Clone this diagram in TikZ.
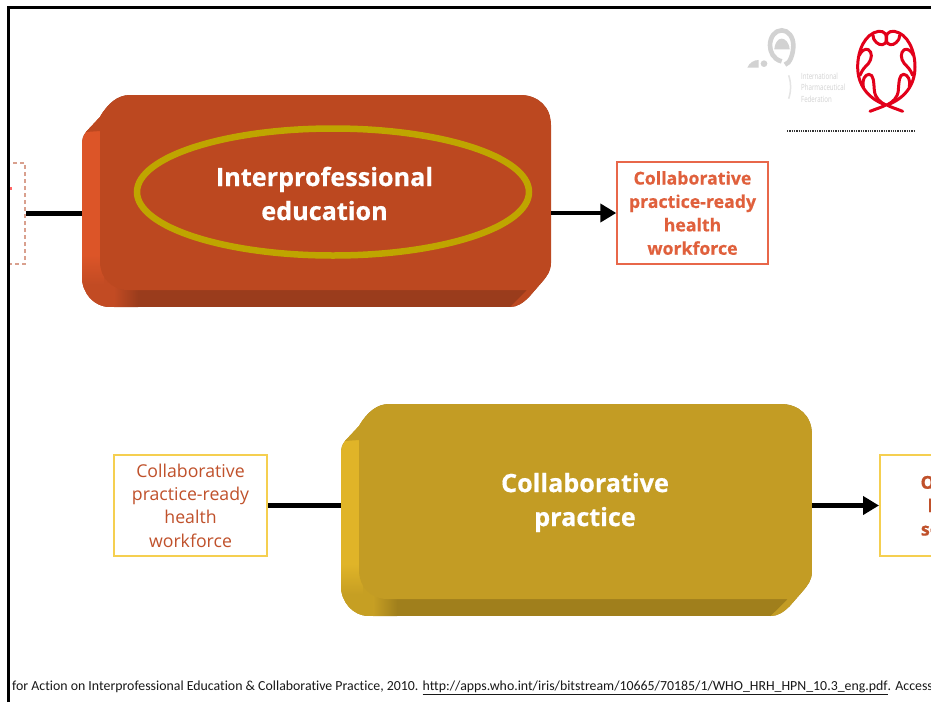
\documentclass[tikz,border=0pt]{standalone}
\usepackage{fontspec}
\setmainfont{Open Sans}[BoldFeatures={FakeBold=0.5}]
\newfontfamily\footfont{Carlito}[Ligatures=NoCommon]
\usetikzlibrary{arrows.meta}
\definecolor{eduface}{HTML}{BC4820}
\definecolor{edulight}{HTML}{DC5528}
\definecolor{edudark}{HTML}{9A3C1C}
\definecolor{pracface}{HTML}{C39C24}
\definecolor{praclight}{HTML}{E0B428}
\definecolor{pracdark}{HTML}{A07F1C}
\definecolor{eduline}{HTML}{E8674A}
\definecolor{dashline}{HTML}{D9A08E}
\definecolor{eduink}{HTML}{E0603C}
\definecolor{pracline}{HTML}{F5CF50}
\definecolor{pracink}{HTML}{C0512B}
\definecolor{oval}{HTML}{BFA500}
\definecolor{logored}{HTML}{E2001A}
\definecolor{logogray}{HTML}{D2D2D2}
\tikzset{
  flowline/.style={line width=4.5pt,black,-{Triangle[length=16pt,width=18pt]}},
  plainline/.style={line width=4.5pt,black},
  outbox/.style={draw=eduline,line width=1.4pt,fill=white,inner sep=0pt,minimum width=151pt,minimum height=102pt,align=center},
  yellowbox/.style={draw=pracline,line width=2pt,fill=white,inner sep=0pt,minimum width=153pt,minimum height=101pt,align=center},
  blocklabel/.style={text=white,font=\fontsize{25.2}{34}\selectfont\bfseries,align=center,inner sep=0pt},
  redlogo/.style={draw=logored,line width=3pt,line cap=round,line join=round},
}
\newcommand{\keyblock}[6]{%
  \begin{scope}[shift={(#1,#2)},xscale=#3]
    \begin{scope}
      \clip (48,0) -- (438,0) .. controls (456,0) and (469,12) .. (469,30) -- (469,168)
        .. controls (469,176) and (465,181) .. (460,187) -- (447,202) .. controls (441,208) and (435,212) .. (428,212) -- (28,212)
        .. controls (12,212) and (0,198) .. (0,182) -- (0,50)
        .. controls (0,44) and (1,41) .. (4,37) -- (18,22) .. controls (26,8) and (36,0) .. (48,0) -- cycle;
      \fill[#6] (0,0) rectangle (469,212);
      \fill[#5] (0,0) rectangle (22,212);
      \shade[top color=#5,bottom color=#5!60!#6] (0,160) rectangle (22,190);
      \fill[#5!60!#6] (0,190) rectangle (22,212);
      \fill[#5!60!#6] (22,160) rectangle (32,212);
      \shade[left color=#5!60!#6,right color=#6] (32,160) rectangle (56,212);
    \end{scope}
    \fill[#4] (48,0) -- (438,0) .. controls (456,0) and (469,12) .. (469,30) -- (469,168)
      .. controls (469,176) and (465,181) .. (460,187) -- (447,202) .. controls (441,208) and (435,212) .. (428,212)
      -- (445,195) -- (46,195) .. controls (30,195) and (18,183) .. (18,167) -- (18,36) -- (4,37) -- (18,22)
      .. controls (26,8) and (36,0) .. (48,0) -- cycle;
  \end{scope}}
\newcommand{\logohalf}{%
  \draw[redlogo] (75,268) .. controls (95,260) and (110,256) .. (122,249) .. controls (70,230) and (38,190) .. (38,135)
    .. controls (38,85) and (60,35) .. (100,28) .. controls (118,25) and (128,40) .. (125,55)
    .. controls (122,70) and (105,72) .. (95,62) .. controls (87,54) and (83,47) .. (84,40);
  \draw[redlogo] (43,100) .. controls (48,88) and (60,78) .. (70,83) .. controls (82,90) and (82,110) .. (70,125) .. controls (60,135) and (52,142) .. (45,160);
  \draw[redlogo] (55,195) .. controls (50,175) and (60,157) .. (72,157) .. controls (86,157) and (86,180) .. (88,205) .. controls (90,228) and (105,240) .. (122,249);
}
\begin{document}
\begin{tikzpicture}[x=1pt,y=-1pt]
\useasboundingbox (0,0) rectangle (931,702);
\clip (0,0) rectangle (931,702);
\fill[white] (0,0) rectangle (931,702);

% blocks
\keyblock{82}{95}{1}{eduface}{edulight}{edudark}
\keyblock{341}{404}{1.004}{pracface}{praclight}{pracdark}

% nodes
\node[minimum width=469pt,minimum height=212pt,inner sep=0pt] (edu) at (316.5,201) {};
\node[minimum width=471pt,minimum height=212pt,inner sep=0pt] (prac) at (576.5,510) {};
\node[draw=dashline,dash pattern=on 4pt off 3pt,line width=1.3pt,minimum width=17pt,minimum height=101pt,inner sep=0pt] (before) at (16.5,213.5) {};
\node[outbox,text=eduink,font=\fontsize{17.7}{23.4}\selectfont\bfseries] (ready) at (692.5,213) {Collaborative\\practice-ready\\health\\workforce};
\node[yellowbox,text=pracink,font=\fontsize{17.7}{23.4}\selectfont] (readyb) at (190.5,505.5) {Collaborative\\practice-ready\\health\\workforce};
\node[draw=pracline,line width=2pt,fill=white,minimum width=153pt,minimum height=101pt,inner sep=0pt,anchor=west,text=pracink,font=\fontsize{17.7}{23.4}\selectfont\bfseries,align=center,text width=139pt] (outcome) at (879,505.5) {Optimal\\health\\services};

% connectors
\draw[plainline] (before.east) -- (edu.west |- before.east);
\draw[flowline] (edu.east |- ready.west) -- (ready.west);
\draw[plainline] (readyb.east) -- (prac.west |- readyb.east);
\draw[flowline] (prac.east |- outcome.west) -- (outcome.west);

% oval and block labels
\draw[oval,line width=6.5pt] (333,192) ellipse [x radius=196,y radius=63.5];
\node[blocklabel] (edutext) at (324.5,193.5) {Interprofessional\\education};
\node[blocklabel] (practext) at (585,502.5) {Collaborative\\practice};

% stray glyph fragment in the cropped box
\fill[red!60!white] (9.5,186.5) rectangle (11.5,190);

% slide frame
\draw[black,line width=3pt] (8.5,702) -- (8.5,7) -- (931,7);

% gray logo
\begin{scope}[shift={(740,22)},x=0.3333pt,y=-0.3333pt]
  \draw[logogray,line width=4.6pt] (125,118) .. controls (100,112) and (90,90) .. (90,70) .. controls (90,45) and (105,25) .. (125,25) .. controls (145,25) and (160,45) .. (160,70) .. controls (160,95) and (150,125) .. (135,128);
  \fill[logogray] (103,82) .. controls (105,60) and (115,50) .. (125,50) .. controls (135,50) and (147,60) .. (149,82) -- cycle;
  \fill[logogray] (72,125) circle [radius=10];
  \fill[logogray] (22,137) .. controls (28,122) and (42,114) .. (56,114) -- (56,137) -- cycle;
  \draw[logogray!60,line width=1.5pt] (146,160) .. controls (154,185) and (154,205) .. (146,230);
\end{scope}
\node[anchor=west,inner sep=0pt,text=logogray,align=left,font=\fontsize{8.5}{11.6}\selectfont,xscale=0.72] (fiptext) at (801,87.5) {International\\Pharmaceutical\\Federation};

% red logo
\begin{scope}[shift={(845,22)},x=0.3333pt,y=-0.3333pt]
  \logohalf
  \begin{scope}[shift={(248,0)},xscale=-1]
    \logohalf
  \end{scope}
\end{scope}

% dotted rule
\draw[black!80,line width=1.3pt,dash pattern=on 1.3pt off 1pt] (787,131) -- (915,131);

% footer
\node[anchor=base west,inner sep=0pt,font=\footfont\fontsize{13.85}{16}\selectfont,text=black!90] (source) at (12,690.5) {for Action on Interprofessional Education \& Collaborative Practice, 2010. \underline{http://apps.who.int/iris/bitstream/10665/70185/1/WHO\_HRH\_HPN\_10.3\_eng.pdf}. Accessed};
\end{tikzpicture}
\end{document}
